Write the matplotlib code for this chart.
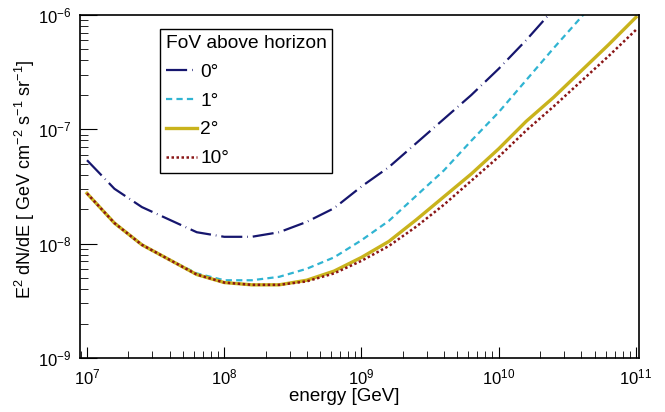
import numpy as np
import matplotlib
matplotlib.use("Agg")
import matplotlib.pyplot as plt

plt.rcParams['font.family'] = ['Liberation Sans', 'DejaVu Sans']
plt.rcParams['mathtext.fontset'] = 'custom'
plt.rcParams['mathtext.rm'] = 'Liberation Sans'
plt.rcParams['mathtext.it'] = 'Liberation Sans:italic'
plt.rcParams['mathtext.default'] = 'regular'

# energy grid, log10(E/GeV)
log_e = [7.0, 7.2, 7.4, 7.6, 7.8, 8.0, 8.2, 8.4, 8.6, 8.8, 9.0,
         9.2, 9.4, 9.6, 9.8, 10.0, 10.2, 10.4, 10.6, 10.8, 11.0]

# log10 of E^2 dN/dE sensitivity for each FoV
fov_0 = [-7.27, -7.52, -7.68, -7.79, -7.90, -7.94, -7.94, -7.90, -7.81, -7.69, -7.50,
         -7.33, -7.12, -6.91, -6.70, -6.47, -6.22, -5.95, -5.68, -5.40, -5.12]
fov_1 = [-7.56, -7.82, -8.01, -8.14, -8.26, -8.32, -8.32, -8.29, -8.22, -8.12, -7.97,
         -7.80, -7.58, -7.36, -7.10, -6.85, -6.57, -6.29, -6.02, -5.74, -5.46]
fov_2 = [-7.56, -7.82, -8.01, -8.14, -8.27, -8.34, -8.36, -8.36, -8.32, -8.24, -8.12,
         -7.98, -7.79, -7.59, -7.39, -7.17, -6.93, -6.72, -6.49, -6.26, -6.02]
fov_10 = [-7.56, -7.82, -8.01, -8.14, -8.27, -8.34, -8.36, -8.36, -8.33, -8.26, -8.15,
          -8.02, -7.85, -7.66, -7.45, -7.24, -7.01, -6.80, -6.58, -6.36, -6.13]

labels = ['0°', '1°', '2°', '10°']

E = 10 ** np.array(log_e)

fig = plt.figure(figsize=(6.65, 4.12), dpi=100)
ax = fig.add_axes([80/665, 1-358/412, 559/665, 343/412])

l0, = ax.plot(E, 10 ** np.array(fov_0), color='#16166e', lw=1.6, label=labels[0])
l0.set_dashes([9.5, 2.2, 0.3, 2.2])
l1, = ax.plot(E, 10 ** np.array(fov_1), color='#30b4d2', lw=1.6, label=labels[1])
l1.set_dashes([2.8, 1.9])
ax.plot(E, 10 ** np.array(fov_2), color='#c9b31c', lw=2.4, label=labels[2])
l3, = ax.plot(E, 10 ** np.array(fov_10), color='#8a1616', lw=1.8, label=labels[3])
l3.set_dashes([1.0, 1.0])

ax.set_xscale('log')
ax.set_yscale('log')
ax.set_xlim(10 ** 6.949, 10 ** 11.022)
ax.set_ylim(1e-9, 1e-6)

ax.tick_params(which='both', direction='in', top=False, right=False, labelsize=12)
ax.tick_params(axis='y', which='major', length=12, pad=6)
ax.tick_params(axis='y', which='minor', length=6)
ax.tick_params(axis='x', which='major', length=8, pad=7)
ax.tick_params(axis='x', which='minor', length=5)
for s in ax.spines.values():
    s.set_linewidth(1.2)

ax.set_xlabel('energy [GeV]', fontsize=13.5)
ax.xaxis.set_label_coords(0.472, -0.087)
ax.set_ylabel('E$^{2}$ dN/dE [ GeV cm$^{-2}$ s$^{-1}$ sr$^{-1}$]', fontsize=13)
ax.yaxis.set_label_coords(-0.077, 0.522)

leg = ax.legend(title='FoV above horizon', loc='upper left',
                bbox_to_anchor=((160-80)/559, (358-29)/343),
                fontsize=13.8, title_fontsize=13.8, fancybox=False,
                edgecolor='black', framealpha=1, handlelength=1.65,
                borderaxespad=0, labelspacing=0.6, handletextpad=0.15,
                borderpad=0.3)
leg._legend_box.align = 'left'
leg.get_frame().set_linewidth(1.0)

fig.savefig('out.png', dpi=100)
